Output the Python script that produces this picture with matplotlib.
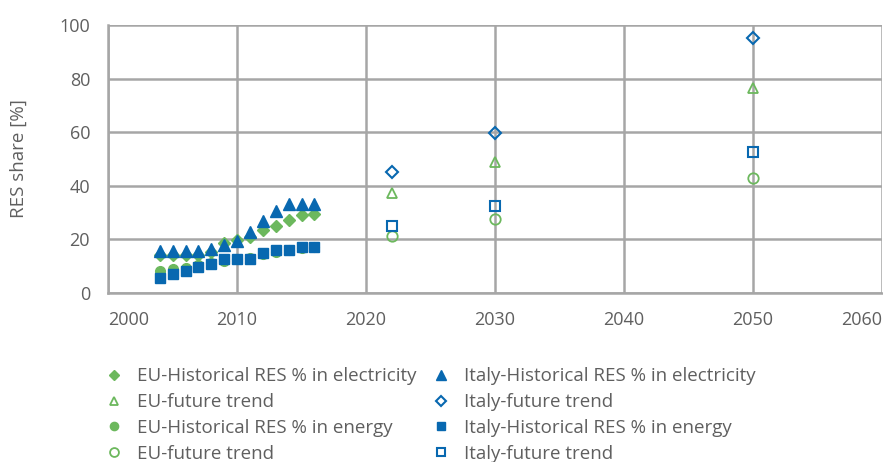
import matplotlib
matplotlib.use("Agg")
import matplotlib.pyplot as plt

plt.rcParams['font.family'] = ['Open Sans', 'DejaVu Sans']

GREEN = "#6cb85d"
BLUE = "#0868b0"
GRID = "#a6a6a6"
TEXT = "#5f5f5f"

hist_years = list(range(2004, 2017))
eu_elec_hist = [14.0, 14.0, 14.1, 14.3, 15.3, 18.5, 19.8, 21.0, 23.3, 25.0, 27.2, 28.9, 29.6]
it_elec_hist = [15.5, 15.5, 15.5, 15.5, 16.2, 18.0, 19.4, 22.8, 27.0, 30.5, 33.3, 33.3, 33.3]
eu_energy_hist = [8.3, 9.0, 9.3, 10.4, 11.0, 11.8, 12.7, 12.9, 14.4, 15.1, 16.1, 16.7, 17.0]
it_energy_hist = [5.6, 7.0, 8.2, 9.7, 10.7, 12.5, 12.6, 12.6, 14.9, 16.1, 16.1, 17.0, 17.0]

future_years = [2022, 2030, 2050]
eu_elec_future = [37.3, 49.0, 76.5]
it_elec_future = [45.2, 59.8, 95.3]
eu_energy_future = [21.2, 27.4, 43.0]
it_energy_future = [24.8, 32.6, 52.7]

x_ticks = list(range(2000, 2061, 10))
y_ticks = list(range(0, 101, 20))

fig = plt.figure(figsize=(8.83, 4.62), dpi=100)
ax = fig.add_axes([0.1225, 0.366, 0.876, 0.580])

ax.plot(hist_years, eu_elec_hist, linestyle='none', marker='D', ms=6, color=GREEN,
        label="EU-Historical RES % in electricity")
ax.plot(future_years, eu_elec_future, linestyle='none', marker='^', ms=7.5, mfc='none',
        mec=GREEN, mew=1.3, label="EU-future trend")
ax.plot(hist_years, eu_energy_hist, linestyle='none', marker='o', ms=7, color=GREEN,
        label="EU-Historical RES % in energy")
ax.plot(future_years, eu_energy_future, linestyle='none', marker='o', ms=7.5, mfc='none',
        mec=GREEN, mew=1.3, label="EU-future trend")
ax.plot(hist_years, it_elec_hist, linestyle='none', marker='^', ms=8, color=BLUE,
        label="Italy-Historical RES % in electricity")
ax.plot(future_years, it_elec_future, linestyle='none', marker='D', ms=6, mfc='none',
        mec=BLUE, mew=1.5, label="Italy-future trend")
ax.plot(hist_years, it_energy_hist, linestyle='none', marker='s', ms=7, color=BLUE,
        label="Italy-Historical RES % in energy")
ax.plot(future_years, it_energy_future, linestyle='none', marker='s', ms=7, mfc='none',
        mec=BLUE, mew=1.5, label="Italy-future trend")

ax.set_xlim(x_ticks[0], x_ticks[-1])
ax.set_ylim(y_ticks[0], y_ticks[-1])
ax.set_xticks(x_ticks)
ax.set_yticks(y_ticks)
ax.grid(True, color=GRID, linewidth=1.8)
ax.set_axisbelow(True)
for side in ['top', 'right']:
    ax.spines[side].set_visible(False)
for side in ['left', 'bottom']:
    ax.spines[side].set_color(GRID)
    ax.spines[side].set_linewidth(1.8)
ax.tick_params(length=0, labelsize=13, labelcolor=TEXT)
ax.tick_params(axis='y', pad=13)
ax.tick_params(axis='x', pad=13)
# keep the end year labels inside the plot width
xt = ax.xaxis.get_major_ticks()
xt[0].label1.set_horizontalalignment('left')
xt[-1].label1.set_horizontalalignment('right')
ax.set_ylabel("RES share [%]", fontsize=13.5, color=TEXT)
ax.yaxis.set_label_coords(-0.104, 0.5)

leg = fig.legend(loc='upper left', bbox_to_anchor=(0.1185, 0.205), ncol=2, frameon=False,
                 fontsize=13.5, labelcolor=TEXT, handlelength=1.0, handletextpad=0.7,
                 columnspacing=0.85, labelspacing=0.42, borderaxespad=0, borderpad=0,
                 markerscale=0.85)

fig.savefig("out.png", dpi=100)
